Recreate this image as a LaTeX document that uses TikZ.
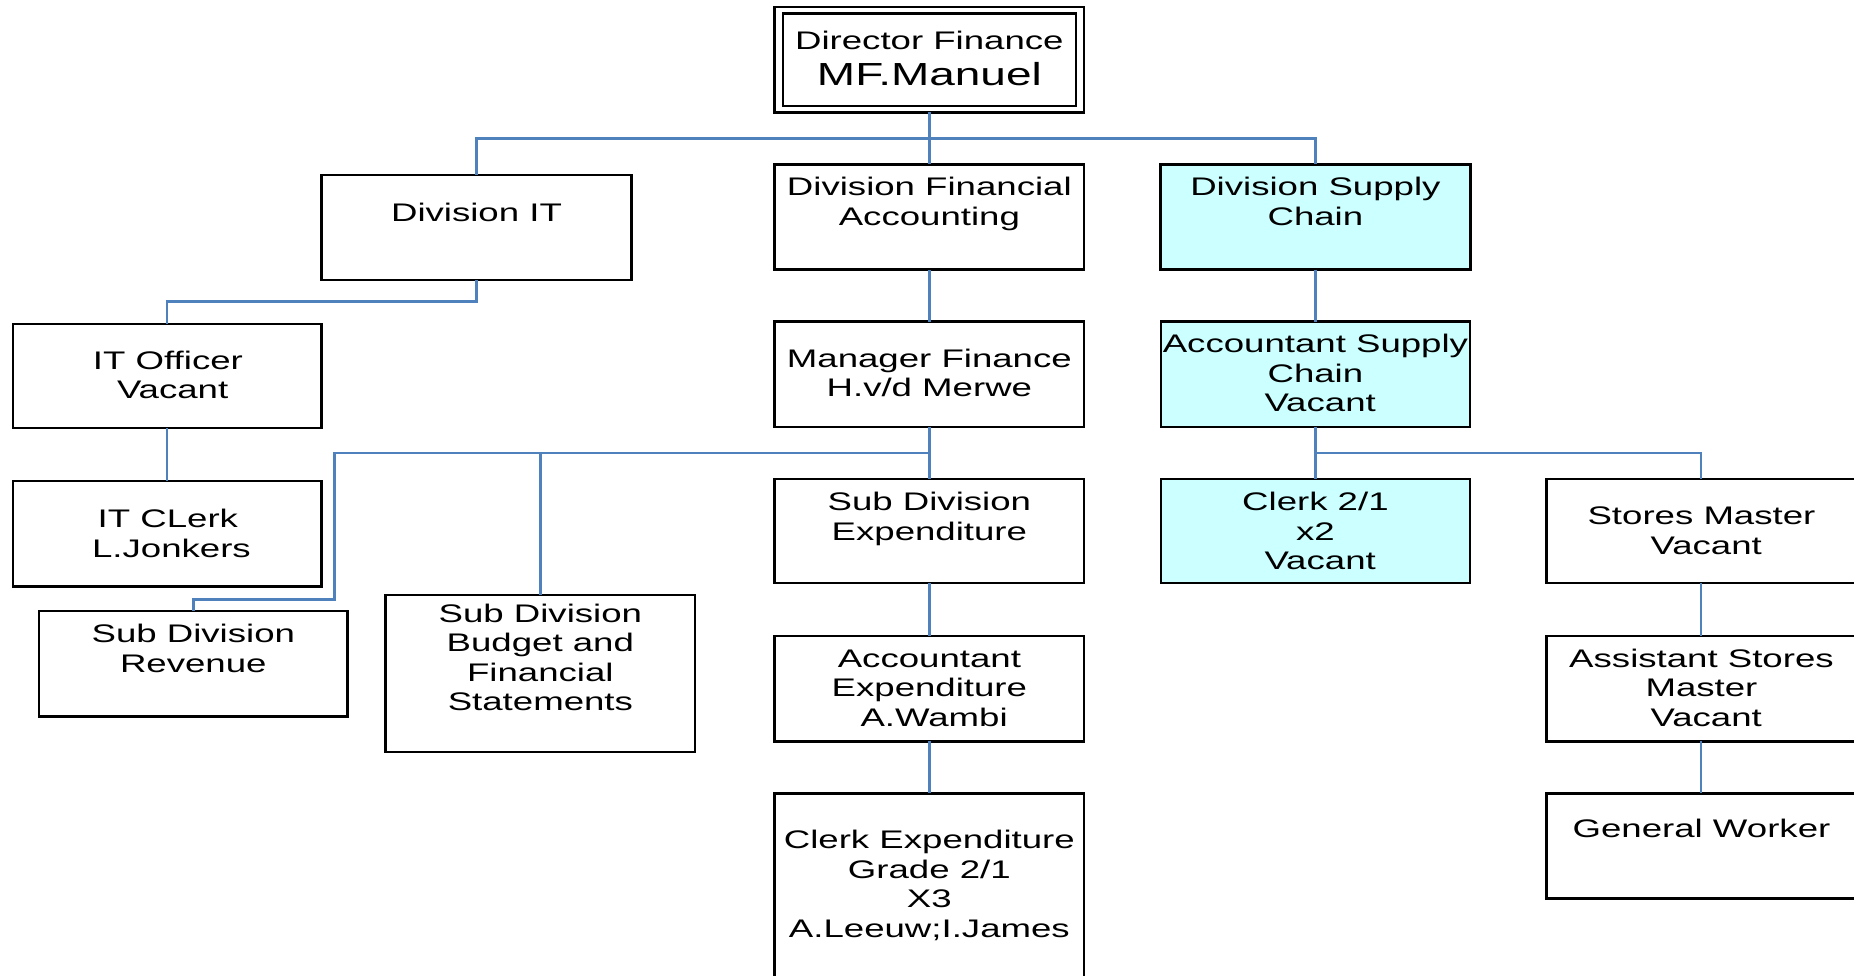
\documentclass[tikz,border=0pt]{standalone}
\usepackage{fontspec}
\setmainfont{Liberation Sans}[FakeStretch=1.44]
\definecolor{boxcyan}{RGB}{204,255,255}
\definecolor{linkblue}{RGB}{79,129,189}
\begin{document}
\begin{tikzpicture}[x=1pt,y=-1pt,
  box/.style={draw=black, line width=2pt, rectangle, minimum width=262pt, minimum height=89pt, inner sep=0pt, outer sep=0pt},
  cyanbox/.style={box, fill=boxcyan},
  txt/.style={anchor=north, align=center, inner sep=0pt, font=\fontsize{21.5}{25}\selectfont},
  conn/.style={draw=linkblue, line width=2pt},
]
\useasboundingbox (0,0) rectangle (1568,825);

% boxes
\node[box] (dir) at (786,50.5) {};
\draw[line width=2pt] ([xshift=7pt,yshift=-5.5pt]dir.north west) rectangle ([xshift=-7pt,yshift=5.5pt]dir.south east);
\node[box] (dit) at (403,192.5) {};
\node[box] (dfa) at (786,183.5) {};
\node[cyanbox] (dsc) at (1112.5,183.5) {};
\node[box, minimum width=261pt, minimum height=88pt] (ito) at (141.5,318) {};
\node[box, minimum width=261pt] (itc) at (141.5,451.5) {};
\node[box] (mf) at (786,316.5) {};
\node[box, minimum width=261pt] (rev) at (163.5,561.5) {};
\node[box, minimum height=133pt] (bud) at (457,569.5) {};
\node[box, minimum height=88pt] (sde) at (786,449) {};
\node[box] (ae) at (786,582.5) {};
\node[box, minimum height=200pt] (ce) at (786,771) {};
\node[cyanbox, minimum width=261pt] (asc) at (1112.5,316.5) {};
\node[cyanbox, minimum width=261pt, minimum height=88pt] (c21) at (1112.5,449) {};
\node[box, minimum width=261pt, minimum height=88pt] (sm) at (1438.5,449) {};
\node[box, minimum width=261pt] (asm) at (1438.5,582.5) {};
\node[box, minimum width=261pt] (gw) at (1438.5,715.5) {};

% texts
\node[anchor=base, inner sep=0pt, font=\fontsize{21.5}{25}\selectfont] (tdir1) at (786,42) {Director Finance};
\node[anchor=base, inner sep=0pt, font=\fontsize{27}{31}\selectfont] (tdir2) at (786,72) {MF.Manuel};
\node[txt] (tdit) at (403,170) {\strut Division IT};
\node[txt] (tdfa) at (786,148) {\strut Division Financial\\Accounting};
\node[txt] (tdsc) at (1112.5,148) {\strut Division Supply\\Chain};
\node[txt] (tito) at (142,294.5) {\strut IT Officer\\\hspace*{8pt}Vacant};
\node[txt] (titc) at (142,428.5) {\strut IT CLerk\\\hspace*{6pt}L.Jonkers};
\node[txt] (tmf) at (786,293) {\strut Manager Finance\\H.v/d Merwe};
\node[txt] (trev) at (163.5,526) {\strut Sub Division\\Revenue};
\node[txt] (tbud) at (457,508.5) {\strut Sub Division\\Budget and\\Financial\\Statements};
\node[txt] (tsde) at (786,414) {\strut Sub Division\\Expenditure};
\node[txt] (tae) at (786,546.5) {\strut Accountant\\Expenditure\\\hspace*{8pt}A.Wambi};
\node[txt] (tce) at (786,700) {\strut Clerk Expenditure\\Grade 2/1\\X3\\A.Leeuw;I.James};
\node[txt] (tasc) at (1112.5,280.5) {\strut Accountant Supply\\Chain\\\hspace*{8pt}Vacant};
\node[txt] (tc21) at (1112.5,414) {\strut Clerk 2/1\\x2\\\hspace*{8pt}Vacant};
\node[txt] (tsm) at (1439,426) {\strut Stores Master\\\hspace*{8pt}Vacant};
\node[txt] (tasm) at (1439,546.5) {\strut Assistant Stores\\Master\\\hspace*{8pt}Vacant};
\node[txt] (tgw) at (1439,691) {\strut General Worker};

% connectors
\draw[conn] (dir.south) -- (dfa.north);
\draw[conn] (dir.south) -- ++(0,22) -| (dit.north);
\draw[conn] (dir.south) -- ++(0,22) -| (dsc.north);
\draw[conn] (dit.south) -- ++(0,18) -| (ito.north);
\draw[conn] (ito.south) -- (itc.north);
\draw[conn] (dfa.south) -- (mf.north);
\draw[conn] (mf.south) -- (sde.north);
\draw[conn] (mf.south) -- ++(0,22) -| (bud.north);
\coordinate (revk) at (283,507);
\draw[conn] (mf.south) -- ++(0,22) -| (revk) -| (rev.north);
\draw[conn] (sde.south) -- (ae.north);
\draw[conn] (ae.south) -- (ce.north);
\draw[conn] (dsc.south) -- (asc.north);
\draw[conn] (asc.south) -- (c21.north);
\draw[conn] (asc.south) -- ++(0,22) -| (sm.north);
\draw[conn] (sm.south) -- (asm.north);
\draw[conn] (asm.south) -- (gw.north);
\end{tikzpicture}
\end{document}
